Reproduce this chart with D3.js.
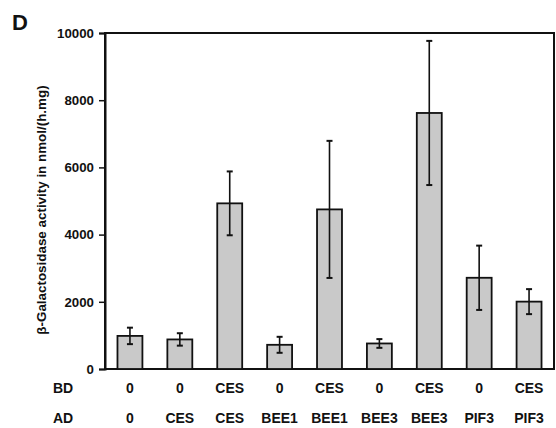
<!DOCTYPE html>
<html>
<head>
<meta charset="utf-8">
<script src="https://cdn.jsdelivr.net/npm/d3@7"></script>
<style>
html,body{margin:0;padding:0;background:#fff;}
svg{display:block;font-family:"Liberation Sans",Arial,Helvetica,sans-serif;font-weight:bold;}
</style>
</head>
<body>
<svg id="chart" width="556" height="428"></svg>
<script>
const bdLabels = ["0","0","CES","0","CES","0","CES","0","CES"];
const adLabels = ["0","CES","CES","BEE1","BEE1","BEE3","BEE3","PIF3","PIF3"];
const means = [985, 880, 4930, 720, 4750, 760, 7620, 2715, 2005];
const errors = [245, 185, 950, 238, 2040, 130, 2145, 957, 372];
const yTicks = [0, 2000, 4000, 6000, 8000, 10000];
const yLabel = "β-Galactosidase activity in nmol/(h.mg)";
const panelLetter = "D";

const svg = d3.select("#chart");
const mLeft = 105, mRight = 554, mTop = 33, mBottom = 369;
const idx = d3.range(means.length);

const x = d3.scaleBand().domain(idx).range([mLeft, mRight]).paddingInner(0.5).paddingOuter(0.25);
const y = d3.scaleLinear().domain([0, 10000]).range([mBottom, mTop]);

// frame
svg.append("rect").attr("x", mLeft).attr("y", mTop).attr("width", mRight - mLeft).attr("height", mBottom - mTop)
  .attr("fill", "none").attr("stroke", "#111").attr("stroke-width", 2);

// y axis
const yAxis = svg.append("g").attr("transform", `translate(${mLeft},0)`)
  .call(d3.axisLeft(y).tickValues(yTicks).tickSize(6).tickPadding(5).tickFormat(d3.format("d")));
yAxis.select(".domain").attr("stroke", "#111").attr("stroke-width", 2);
yAxis.selectAll(".tick line").attr("stroke", "#111").attr("stroke-width", 1.5);
yAxis.selectAll(".tick text").attr("font-size", 13.3).attr("font-weight", "bold")
  .attr("font-family", "'Liberation Sans',Arial,sans-serif").attr("fill", "#111");

// bars
svg.append("g").selectAll("rect").data(idx).join("rect")
  .attr("x", i => x(i)).attr("width", x.bandwidth())
  .attr("y", i => y(means[i])).attr("height", i => y(0) - y(means[i]))
  .attr("fill", "#c9c9c9").attr("stroke", "#111").attr("stroke-width", 1.8);

// error bars
const eg = svg.append("g").attr("stroke", "#111").attr("stroke-width", 1.6);
idx.forEach(i => {
  const cx = x(i) + x.bandwidth() / 2;
  const hi = y(means[i] + errors[i]), lo = y(means[i] - errors[i]);
  eg.append("line").attr("x1", cx).attr("x2", cx).attr("y1", hi).attr("y2", lo);
  eg.append("line").attr("x1", cx - 3).attr("x2", cx + 3).attr("y1", hi).attr("y2", hi).attr("stroke-width", 2);
  eg.append("line").attr("x1", cx - 3).attr("x2", cx + 3).attr("y1", lo).attr("y2", lo).attr("stroke-width", 2);
});

// category rows
const rows = [{name: "BD", labels: bdLabels, yb: 393}, {name: "AD", labels: adLabels, yb: 423}];
rows.forEach(r => {
  svg.append("text").attr("x", 53).attr("y", r.yb).attr("font-size", 14).attr("fill", "#111").text(r.name);
  svg.append("g").selectAll("text").data(idx).join("text")
    .attr("x", i => x(i) + x.bandwidth() / 2).attr("y", r.yb)
    .attr("text-anchor", "middle").attr("font-size", 14).attr("fill", "#111")
    .text(i => r.labels[i]);
});

// y label
svg.append("text").attr("transform", `translate(46,${(58 + 362) / 2}) rotate(-90)`)
  .attr("text-anchor", "middle").attr("font-size", 13.4).attr("fill", "#111").text(yLabel);

// panel letter
svg.append("text").attr("x", 12).attr("y", 30).attr("font-size", 22).attr("fill", "#111").text(panelLetter);
</script>
</body>
</html>
